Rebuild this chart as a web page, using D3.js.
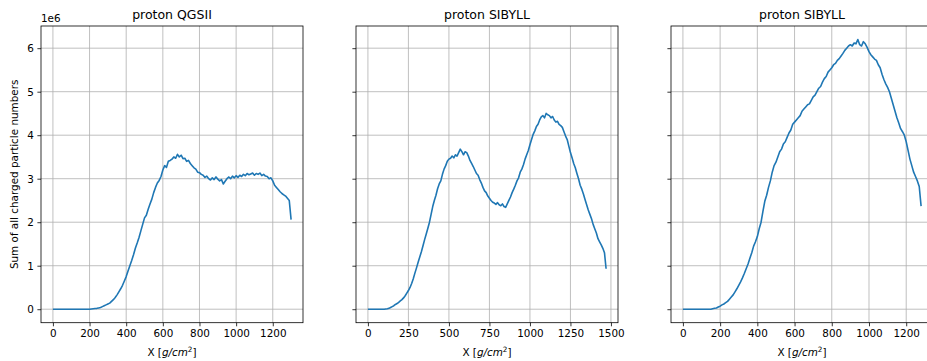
<!DOCTYPE html>
<html>
<head>
<meta charset="utf-8">
<script src="https://cdn.jsdelivr.net/npm/d3@7"></script>
<style>
  body { margin: 0; background: #fff; }
  svg { display: block; font-family: "DejaVu Sans", sans-serif; }
  .tick text { font-size: 10.4px; fill: #000; }
  .tick line { stroke: #000; stroke-width: 0.8; }
  .grid line { stroke: #b0b0b0; stroke-width: 0.8; }
</style>
</head>
<body>
<div id="chart"></div>
<script>
// depth bins are 10 g/cm^2 wide, values in units of 1e6
const step = 10;

const qgsValues = [
  0, 0, 0, 0, 0, 0, 0, 0, 0, 0, 0, 0, 0, 0, 0, 0, 0, 0, 0, 0, 0,
  0.005, 0.01, 0.015, 0.02, 0.03, 0.04, 0.06, 0.08, 0.1, 0.12,
  0.14, 0.18, 0.22, 0.27, 0.33, 0.4, 0.47, 0.55, 0.65, 0.75,
  0.88, 1.0, 1.12, 1.25, 1.4, 1.52, 1.65, 1.8, 1.95, 2.1,
  2.16, 2.3, 2.42, 2.53, 2.68, 2.8, 2.9, 2.96, 3.05, 3.2,
  3.3, 3.26, 3.4, 3.42, 3.45, 3.5, 3.47, 3.56, 3.5, 3.54,
  3.46, 3.47, 3.4, 3.42, 3.35, 3.3, 3.25, 3.22, 3.15, 3.14,
  3.1, 3.08, 3.03, 3.06, 3.0, 2.97, 3.02, 2.98, 3.04, 2.99,
  2.95, 2.98, 2.88, 2.94, 3.0, 3.04, 3.0, 3.06, 3.02, 3.07,
  3.03, 3.08, 3.05, 3.1, 3.07, 3.12, 3.09, 3.11, 3.13, 3.08,
  3.12, 3.1, 3.13, 3.07, 3.1, 3.06, 3.05, 3.0, 3.02, 2.95,
  2.85, 2.8, 2.75, 2.7, 2.66, 2.63, 2.6, 2.55, 2.5, 2.06
];

const sib1Values = [
  0, 0, 0, 0, 0, 0, 0, 0, 0, 0, 0,
  0.005, 0.01, 0.02, 0.04, 0.06, 0.08, 0.11, 0.13, 0.16, 0.19,
  0.22, 0.26, 0.31, 0.37, 0.43, 0.5, 0.59, 0.7, 0.83, 0.95,
  1.08, 1.2, 1.32, 1.46, 1.6, 1.73, 1.86, 2.0, 2.18, 2.36,
  2.5, 2.62, 2.77, 2.88, 2.95, 3.1, 3.22, 3.3, 3.4, 3.45,
  3.47, 3.52, 3.48, 3.55, 3.52, 3.6, 3.68, 3.62, 3.55, 3.62,
  3.6, 3.52, 3.42, 3.35, 3.28, 3.2, 3.12, 3.08, 2.98, 2.9,
  2.8, 2.72, 2.68, 2.6, 2.55, 2.5, 2.46, 2.44, 2.41, 2.45,
  2.4, 2.38, 2.42, 2.36, 2.34, 2.42, 2.5, 2.58, 2.68, 2.76,
  2.85, 2.95, 3.02, 3.15, 3.22, 3.32, 3.45, 3.55, 3.65, 3.78,
  3.9, 4.02, 4.1, 4.2, 4.25, 4.35, 4.42, 4.45, 4.4, 4.5,
  4.47, 4.45, 4.4, 4.43, 4.35, 4.3, 4.32, 4.25, 4.22, 4.18,
  4.08, 3.98, 3.9, 3.75, 3.6, 3.48, 3.35, 3.25, 3.12, 3.0,
  2.85, 2.76, 2.65, 2.52, 2.4, 2.28, 2.18, 2.08, 1.95, 1.85,
  1.75, 1.62, 1.55, 1.48, 1.4, 1.3, 0.93
];

const sib2Values = [
  0, 0, 0, 0, 0, 0, 0, 0, 0, 0, 0, 0, 0, 0, 0, 0,
  0.01, 0.02, 0.03, 0.05, 0.07, 0.1, 0.12, 0.15, 0.18, 0.23,
  0.28, 0.33, 0.4, 0.47, 0.55, 0.63, 0.72, 0.82, 0.93, 1.04,
  1.17, 1.3, 1.45, 1.55, 1.67, 1.85, 2.0, 2.25, 2.48, 2.62,
  2.8, 2.95, 3.15, 3.3, 3.38, 3.5, 3.62, 3.68, 3.8, 3.85,
  3.95, 4.05, 4.12, 4.25, 4.3, 4.35, 4.4, 4.45, 4.55, 4.6,
  4.65, 4.7, 4.72, 4.8, 4.88, 4.92, 5.0, 5.08, 5.12, 5.22,
  5.3, 5.35, 5.45, 5.5, 5.55, 5.62, 5.65, 5.72, 5.76, 5.82,
  5.88, 5.95, 6.0, 6.05, 6.08, 6.05, 6.12, 6.1, 6.2, 6.08,
  6.05, 6.15, 6.1, 6.02, 5.92, 5.85, 5.8, 5.75, 5.72, 5.62,
  5.55, 5.4, 5.28, 5.18, 5.1, 5.0, 4.85, 4.7, 4.55, 4.4,
  4.28, 4.15, 4.08, 4.0, 3.85, 3.65, 3.45, 3.3, 3.15, 3.05,
  2.95, 2.82, 2.37
];

const titles = ["proton QGSII", "proton SIBYLL", "proton SIBYLL"];
const xTickValues = [
  [0, 200, 400, 600, 800, 1000, 1200],
  [0, 250, 500, 750, 1000, 1250, 1500],
  [0, 200, 400, 600, 800, 1000, 1200]
];
const yTickValues = [0, 1, 2, 3, 4, 5, 6];

const width = 927;
const height = 361;
const panelWidth = 262;
const panelLefts = [41, 356, 671];
const plotTop = 26;
const plotBottom = 322.7;

const series = [qgsValues, sib1Values, sib2Values].map((values) =>
  values.map((v, i) => ({ x: i * step, y: v }))
);

const svg = d3
  .select("#chart")
  .append("svg")
  .attr("width", width)
  .attr("height", height);

// shared y scale, matplotlib style 5% margins
const yMax = d3.max(series, (s) => d3.max(s, (d) => d.y));
const yPad = yMax * 0.05;
const y = d3
  .scaleLinear()
  .domain([-yPad, yMax + yPad])
  .range([plotBottom, plotTop]);

series.forEach((data, p) => {
  const left = panelLefts[p];
  const xMax = d3.max(data, (d) => d.x);
  const xPad = xMax * 0.05;
  const x = d3
    .scaleLinear()
    .domain([-xPad, xMax + xPad])
    .range([left, left + panelWidth]);

  const g = svg.append("g");

  const grid = g.append("g").attr("class", "grid");
  grid
    .selectAll("line.v")
    .data(xTickValues[p])
    .join("line")
    .attr("class", "v")
    .attr("x1", (d) => x(d))
    .attr("x2", (d) => x(d))
    .attr("y1", plotTop)
    .attr("y2", plotBottom);
  grid
    .selectAll("line.h")
    .data(yTickValues)
    .join("line")
    .attr("class", "h")
    .attr("x1", left)
    .attr("x2", left + panelWidth)
    .attr("y1", (d) => y(d))
    .attr("y2", (d) => y(d));

  g.append("path")
    .datum(data)
    .attr("fill", "none")
    .attr("stroke", "#1f77b4")
    .attr("stroke-width", 1.6)
    .attr("stroke-linejoin", "round")
    .attr("d", d3.line().x((d) => x(d.x)).y((d) => y(d.y)));

  g.append("g")
    .attr("transform", `translate(0,${plotBottom})`)
    .call(
      d3
        .axisBottom(x)
        .tickValues(xTickValues[p])
        .tickFormat(d3.format("d"))
        .tickSize(3.6)
        .tickPadding(3.6)
    )
    .attr("font-size", null)
    .attr("font-family", null)
    .call((a) => a.select(".domain").remove());

  g.append("g")
    .attr("transform", `translate(${left},0)`)
    .call(
      d3
        .axisLeft(y)
        .tickValues(yTickValues)
        .tickSize(3.6)
        .tickPadding(3.6)
        .tickFormat(p === 0 ? d3.format("d") : () => "")
    )
    .attr("font-size", null)
    .attr("font-family", null)
    .call((a) => a.select(".domain").remove());

  g.append("rect")
    .attr("x", left)
    .attr("y", plotTop)
    .attr("width", panelWidth)
    .attr("height", plotBottom - plotTop)
    .attr("fill", "none")
    .attr("stroke", "#000")
    .attr("stroke-width", 0.8);

  g.append("text")
    .attr("x", left + panelWidth / 2)
    .attr("y", 19)
    .attr("text-anchor", "middle")
    .attr("font-size", 12.5)
    .text(titles[p]);

  const xl = g
    .append("text")
    .attr("x", left + panelWidth / 2)
    .attr("y", 356)
    .attr("text-anchor", "middle")
    .attr("font-size", 10.4);
  xl.append("tspan").text("X [");
  xl.append("tspan").attr("font-style", "italic").text("g/cm");
  xl.append("tspan").attr("font-size", 7.3).attr("dy", -4).text("2");
  xl.append("tspan").attr("dy", 4).text("]");
});

svg
  .append("text")
  .attr("x", 41)
  .attr("y", 22)
  .attr("font-size", 10.4)
  .text("1e6");

svg
  .append("text")
  .attr("transform", `translate(18,${(plotTop + plotBottom) / 2}) rotate(-90)`)
  .attr("text-anchor", "middle")
  .attr("font-size", 10.4)
  .text("Sum of all charged particle numbers");
</script>
</body>
</html>
